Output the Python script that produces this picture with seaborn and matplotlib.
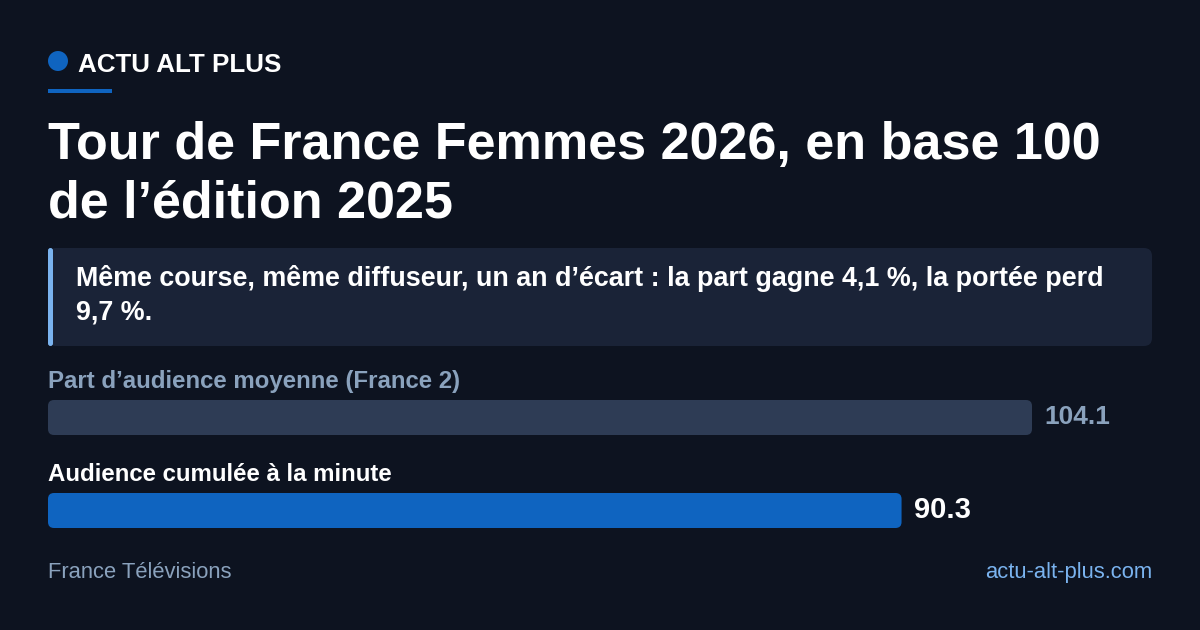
import matplotlib
matplotlib.use("Agg")
import matplotlib.pyplot as plt
import seaborn as sns
from matplotlib.patches import FancyBboxPatch, Circle, Rectangle

# Data
categories = ["Part d’audience moyenne (France 2)", "Audience cumulée à la minute"]
values = [104.1, 90.3]
bar_colors = ["#2e3c55", "#0f64c0"]
label_colors = ["#8aa2bd", "#ffffff"]

title = "Tour de France Femmes 2026, en base 100\nde l’édition 2025"
subtitle = "Même course, même diffuseur, un an d’écart : la part gagne 4,1 %, la portée perd\n9,7 %."
brand = "ACTU ALT PLUS"
source = "France Télévisions"
site = "actu-alt-plus.com"

BG = "#0d1320"
W, H = 1200, 630

sns.set_theme(style="white")
plt.rcParams["font.family"] = ["Liberation Sans", "DejaVu Sans"]

fig = plt.figure(figsize=(W / 100, H / 100), dpi=100, facecolor=BG)


def fx(x):
    return x / W


def fy(y):
    return 1 - y / H


# header
fig.patches.append(Circle((58, H - 61), 10, transform=None,
                          facecolor="#0f64c0", edgecolor="none"))
fig.text(fx(78), fy(72), brand, color="white", fontsize=18.7, fontweight="bold", va="baseline")
fig.patches.append(Rectangle((fx(48), fy(93)), fx(64), 4 / H, transform=fig.transFigure,
                             facecolor="#0f64c0", edgecolor="none"))

# title
t1, t2 = title.split("\n")
fig.text(fx(48), fy(159), t1, color="white", fontsize=37.5, fontweight="bold", va="baseline")
fig.text(fx(48), fy(218), t2, color="white", fontsize=37.5, fontweight="bold", va="baseline")

# callout box
fig.patches.append(FancyBboxPatch((48, H - 346), 1104, 98, transform=None,
                                  boxstyle="round,pad=0,rounding_size=8",
                                  facecolor="#1a2337", edgecolor="none"))
fig.patches.append(FancyBboxPatch((48, H - 346), 5, 98, transform=None,
                                  boxstyle="round,pad=0,rounding_size=2.5",
                                  facecolor="#7ab3ef", edgecolor="none"))
s1, s2 = subtitle.split("\n")
fig.text(fx(76), fy(286), s1, color="white", fontsize=19.4, fontweight="bold", va="baseline")
fig.text(fx(76), fy(320), s2, color="white", fontsize=19.4, fontweight="bold", va="baseline")

# bars
px_per_unit = (1032 - 48) / 104.1
ax_w = 1104
xmax = ax_w / px_per_unit
bar_h = 35
gap = 93
w = bar_h / gap
top_px = 400
ax_h = gap + bar_h
ax = fig.add_axes([fx(48), fy(top_px + ax_h), fx(ax_w), ax_h / H])
ax.set_facecolor("none")
sns.barplot(x=values, y=categories, hue=categories, palette=bar_colors, orient="h",
            width=w, legend=False, ax=ax, saturation=1)
ax.set_xlim(0, xmax)
ax.set_ylim(1 + w / 2, -w / 2)
ax.axis("off")

# swap plain bars for rounded ones
aspect = px_per_unit / gap
for p in list(ax.patches):
    x0, y0 = p.get_x(), p.get_y()
    bw, bh = p.get_width(), p.get_height()
    fc = p.get_facecolor()
    p.remove()
    ax.add_patch(FancyBboxPatch((x0, y0), bw, bh,
                                boxstyle=f"round,pad=0,rounding_size={6 / px_per_unit}",
                                mutation_aspect=aspect,
                                facecolor=fc, edgecolor="none"))

off = 12 / px_per_unit
for i, (cat, v) in enumerate(zip(categories, values)):
    ax.text(v + off, i, f"{v:.1f}", color=label_colors[i], fontsize=18.9 if i == 0 else 21,
            fontweight="bold", va="center", ha="left")
    fig.text(fx(48), fy(388 + i * gap), cat, color=label_colors[i], fontsize=17.3,
             fontweight="bold", va="baseline")

# footer
fig.text(fx(48), fy(578), source, color="#8aa2bd", fontsize=15.8, va="baseline")
fig.text(fx(1152), fy(578), site, color="#7ab3ef", fontsize=15.8, va="baseline", ha="right")

fig.savefig("out.png", dpi=100, facecolor=BG)
